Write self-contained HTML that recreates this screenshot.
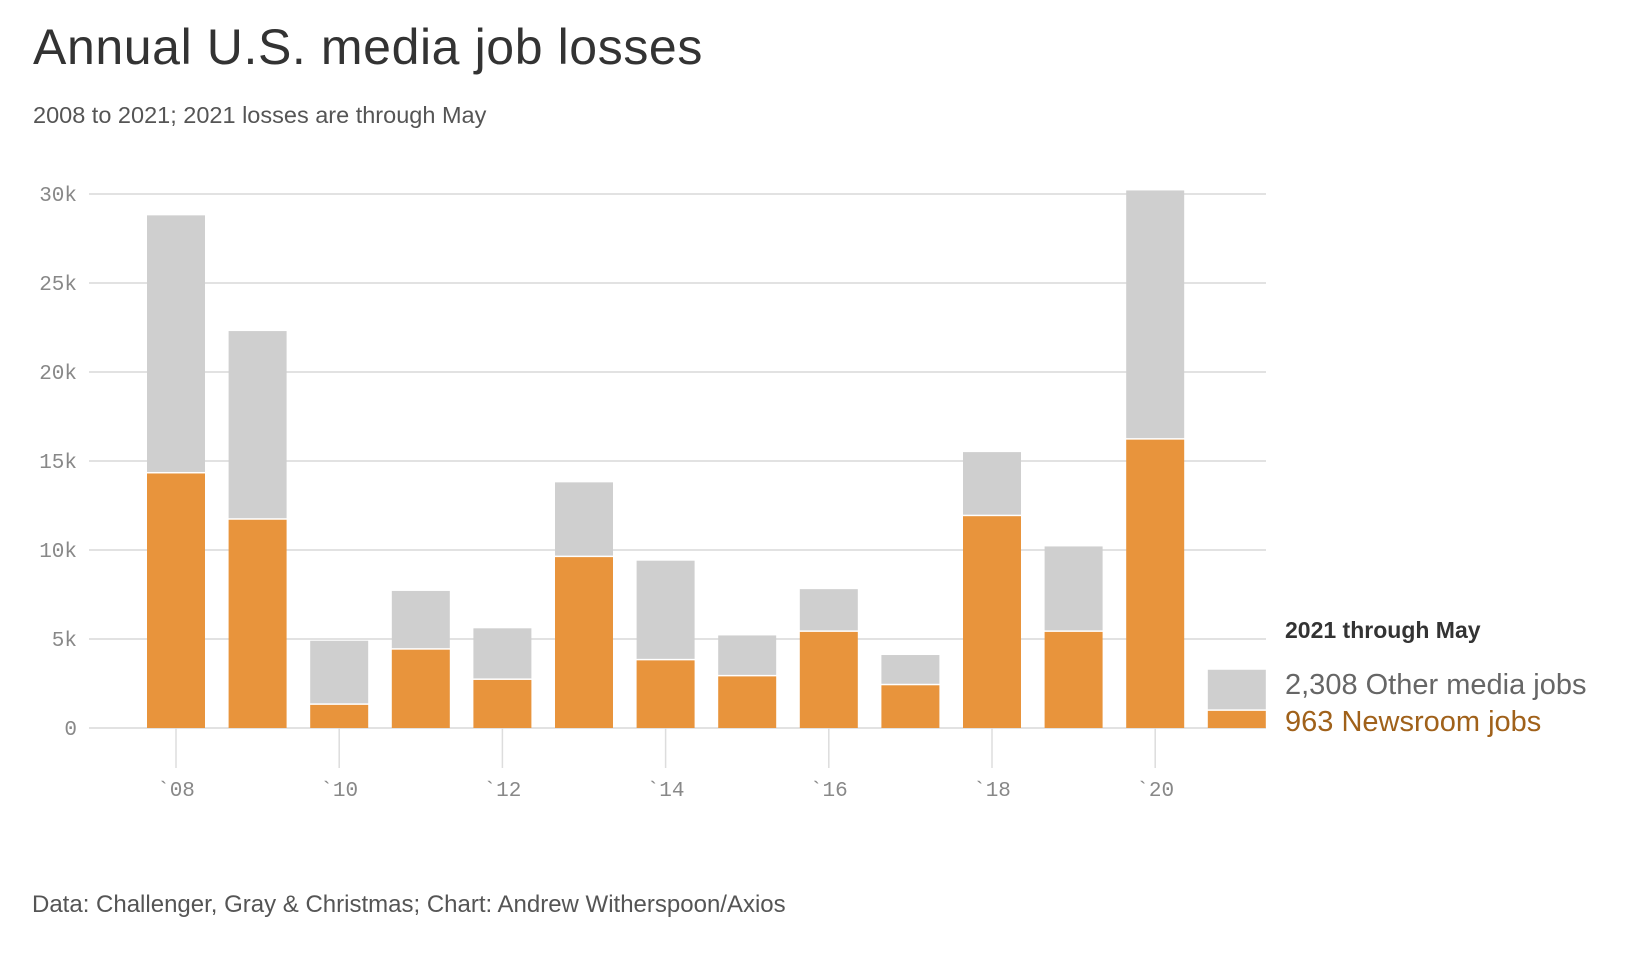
<!DOCTYPE html>
<html><head><meta charset="utf-8"><style>
body{margin:0;background:#fff;width:1640px;height:952px;overflow:hidden;font-family:"Liberation Sans",sans-serif}
</style></head><body>
<svg width="1640" height="952" id="svg">
<text x="33" y="64" font-size="50" fill="#333" letter-spacing="0.6">Annual U.S. media job losses</text>
<text x="33" y="123" font-size="23.5" fill="#555">2008 to 2021; 2021 losses are through May</text>
<g id="grid"></g><g id="bars"></g><g id="xaxis"></g>
<text x="1285" y="638" font-size="23" font-weight="bold" fill="#333">2021 through May</text>
<text x="1285" y="694" font-size="29" fill="#666">2,308 Other media jobs</text>
<text x="1285" y="731" font-size="29" fill="#a0611a">963 Newsroom jobs</text>
<text x="32" y="912" font-size="24" fill="#555">Data: Challenger, Gray &amp; Christmas; Chart: Andrew Witherspoon/Axios</text>
</svg>
<script>
const years=[2008,2009,2010,2011,2012,2013,2014,2015,2016,2017,2018,2019,2020,2021];
const newsroom=[14300,11700,1300,4400,2700,9600,3800,2900,5400,2400,11900,5400,16200,963];
const other=[14500,10600,3600,3300,2900,4200,5600,2300,2400,1700,3600,4800,14000,2308];
const yTicks=[0,5000,10000,15000,20000,25000,30000];
const yTickLabels=["0","5k","10k","15k","20k","25k","30k"];
const ns="http://www.w3.org/2000/svg";
const y0=728,y1=194,yMax=30000,x0=147,pitch=81.6,bw=58,gl=89,gr=1266;
const Y=v=>y0-(v/yMax)*(y0-y1);
const X=i=>x0+i*pitch;
function mk(t,a,p){const e=document.createElementNS(ns,t);for(const k in a)e.setAttribute(k,a[k]);p.appendChild(e);return e;}
const grid=document.getElementById('grid'),bars=document.getElementById('bars'),xa=document.getElementById('xaxis');
yTicks.forEach((v,i)=>{
 const l=mk('line',{x1:gl,x2:gr,y1:Y(v),y2:Y(v),stroke:'#e2e2e2','stroke-width':2},grid);
 
 
 const t=mk('text',{x:77,y:Y(v)+7,'text-anchor':'end','font-size':21,fill:'#888','font-family':'Liberation Mono, monospace'},grid);
 t.textContent=yTickLabels[i];
 
 
});
years.forEach((yr,i)=>{
 const x=X(i);
 const n=mk('rect',{x:x,y:Y(newsroom[i]),width:bw,height:y0-Y(newsroom[i]),fill:'#e8943c'},bars);
 
 
 const top=newsroom[i]+other[i];
 const o=mk('rect',{x:x,y:Y(top),width:bw,height:Y(newsroom[i])-Y(top)-1.5,fill:'#cfcfcf'},bars);
 
 
 if(i%2===0 && i<13){
  const tk=mk('line',{x1:x+bw/2,x2:x+bw/2,y1:y0,y2:y0+40,stroke:'#ddd','stroke-width':1.5},xa);
  
  
  const t=mk('text',{x:x+bw/2,y:y0+68,'text-anchor':'middle','font-size':21,fill:'#888','font-family':'Liberation Mono, monospace'},xa);
  t.textContent='`'+String(yr).slice(2);
  
  
 }
});
</script>
</body></html>
